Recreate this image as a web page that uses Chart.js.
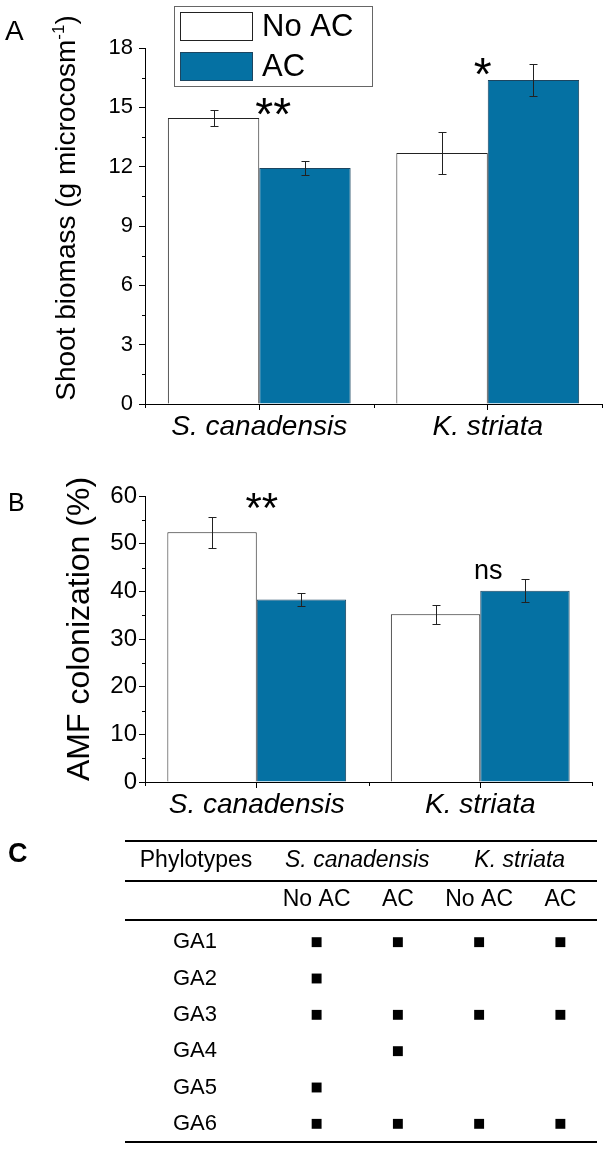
<!DOCTYPE html>
<html>
<head>
<meta charset="utf-8">
<script src="https://cdn.jsdelivr.net/npm/chart.js@4.4.1/dist/chart.umd.min.js"></script>
<style>
  body { margin: 0; background: #fff; }
  #wrap { position: relative; width: 608px; height: 1149px; overflow: hidden; }
  canvas { position: absolute; left: 0; }
</style>
</head>
<body>
<div id="wrap">
  <canvas id="chartA" width="608" height="448" style="top:0"></canvas>
  <canvas id="chartB" width="608" height="380" style="top:450px"></canvas>
  <canvas id="tableC" width="608" height="319" style="top:830px"></canvas>
</div>
<script>
var species = ['S. canadensis', 'K. striata'];

// A: shoot biomass (g microcosm-1)
var biomassNoAC = [14.46, 12.69];
var biomassAC = [11.93, 16.38];
var biomassNoACErr = [0.42, 1.05];
var biomassACErr = [0.36, 0.83];
var biomassTicks = [0, 3, 6, 9, 12, 15, 18];
var biomassSig = ['**', '*'];

// B: AMF colonization (%)
var amfNoAC = [52.4, 35.2];
var amfAC = [38.3, 40.1];
var amfNoACErr = [3.25, 2.0];
var amfACErr = [1.36, 2.4];
var amfTicks = [0, 10, 20, 30, 40, 50, 60];
var amfSig = ['**', 'ns'];

// C: phylotypes found per species / treatment (1 = present)
var phylotypes = ['GA1', 'GA2', 'GA3', 'GA4', 'GA5', 'GA6'];
var tableColumns = ['S. canadensis|No AC', 'S. canadensis|AC', 'K. striata|No AC', 'K. striata|AC'];
var presence = [
  [1, 1, 1, 1],
  [1, 0, 0, 0],
  [1, 1, 1, 1],
  [0, 1, 0, 0],
  [1, 0, 0, 0],
  [1, 1, 1, 1]
];

var FAMILY = '"Liberation Sans", Arial, Helvetica, sans-serif';
var BLUE = '#0571a3';
Chart.defaults.font.family = FAMILY;
Chart.defaults.color = '#000';

var panelPlugin = {
    id: 'panel',
    afterDatasetsDraw: function (chart) {
        var ctx = chart.ctx, ys = chart.scales.y;
        ctx.save();
        ctx.strokeStyle = '#222';
        ctx.lineWidth = 1;
        chart.data.datasets.forEach(function (ds, i) {
            chart.getDatasetMeta(i).data.forEach(function (bar, j) {
                var top = Math.round(ys.getPixelForValue(ds.data[j] + ds.err[j])) + 0.5;
                var bot = Math.round(ys.getPixelForValue(ds.data[j] - ds.err[j])) + 0.5;
                var x = Math.round(bar.x) + 0.5;
                ctx.beginPath();
                ctx.moveTo(x, top); ctx.lineTo(x, bot);
                ctx.moveTo(x - 4, top); ctx.lineTo(x + 4, top);
                ctx.moveTo(x - 4, bot); ctx.lineTo(x + 4, bot);
                ctx.stroke();
            });
        });
        ctx.restore();
    },
    afterDraw: function (chart, args, opts) {
        var ctx = chart.ctx, xs = chart.scales.x, ys = chart.scales.y, area = chart.chartArea;
        ctx.save();
        ctx.strokeStyle = '#000';
        ctx.lineWidth = 1;
        ctx.beginPath();
        // minor ticks between the labelled ones
        for (var i = 0; i < ys.ticks.length - 1; i++) {
            var py = Math.round(ys.getPixelForValue((ys.ticks[i].value + ys.ticks[i + 1].value) / 2)) + 0.5;
            ctx.moveTo(area.left - 3, py); ctx.lineTo(area.left, py);
        }
        for (var k = 0; k <= chart.data.labels.length; k++) {
            var px = Math.round(xs.getPixelForValue(k - 0.5)) + 0.5;
            ctx.moveTo(px, area.bottom); ctx.lineTo(px, area.bottom + 4);
        }
        ctx.stroke();

        ctx.fillStyle = '#000';
        ctx.textAlign = 'left';
        ctx.textBaseline = 'alphabetic';

        // panel letter
        ctx.font = opts.letterSize + 'px ' + FAMILY;
        ctx.fillText(opts.letter, opts.letterX, opts.letterY);

        // significance marks
        opts.sig.forEach(function (txt, j) {
            ctx.font = opts.sigSize[j] + 'px ' + FAMILY;
            ctx.textAlign = 'center';
            ctx.fillText(txt, xs.getPixelForValue(j) + opts.sigDx[j], ys.getPixelForValue(opts.sigAt[j]));
        });

        // rotated y title, parts allow a superscript
        ctx.save();
        ctx.translate(opts.titleX, opts.titleY);
        ctx.rotate(-Math.PI / 2);
        ctx.textAlign = 'left';
        var total = 0;
        opts.title.forEach(function (p) {
            ctx.font = p.size + 'px ' + FAMILY;
            total += ctx.measureText(p.text).width;
        });
        var cx = -total / 2;
        opts.title.forEach(function (p) {
            ctx.font = p.size + 'px ' + FAMILY;
            ctx.fillText(p.text, cx, -(p.rise || 0));
            cx += ctx.measureText(p.text).width;
        });
        ctx.restore();

        // legend box
        if (opts.legend) {
            ctx.strokeStyle = '#666';
            ctx.strokeRect(174.5, 6.5, 198, 80);
            ctx.font = '31px ' + FAMILY;
            ctx.textAlign = 'left';
            ctx.textBaseline = 'middle';
            chart.data.datasets.forEach(function (ds, d) {
                ctx.fillStyle = ds.backgroundColor;
                ctx.fillRect(180, 12 + 40 * d, 72, 28);
                ctx.strokeStyle = ds.borderColor;
                ctx.strokeRect(180.5, 12.5 + 40 * d, 72, 28);
                ctx.fillStyle = '#000';
                ctx.fillText(ds.label, 262, 27 + 40 * d);
            });
        }
        ctx.restore();
    }
};

function barChart(id, cfg) {
    return new Chart(document.getElementById(id), {
        type: 'bar',
        data: {
            labels: species,
            datasets: [
                { label: 'No AC', data: cfg.noAC, err: cfg.noACErr, backgroundColor: '#ffffff', borderColor: '#222222', borderWidth: 1 },
                { label: 'AC', data: cfg.ac, err: cfg.acErr, backgroundColor: BLUE, borderColor: '#1c4560', borderWidth: 1 }
            ]
        },
        options: {
            responsive: false,
            animation: false,
            layout: { padding: cfg.padding },
            datasets: { bar: { categoryPercentage: 0.8, barPercentage: 1.0 } },
            plugins: {
                legend: { display: false },
                tooltip: { enabled: false },
                panel: cfg.panel
            },
            scales: {
                x: {
                    grid: { drawOnChartArea: false, offset: false, tickLength: 6, color: '#000' },
                    border: { color: '#000', width: 1 },
                    ticks: { font: { size: 28, style: 'italic' }, padding: 0, color: '#000' },
                    afterFit: function (s) { s.height = 44; }
                },
                y: {
                    min: cfg.ticks[0],
                    max: cfg.ticks[cfg.ticks.length - 1],
                    afterBuildTicks: function (s) {
                        s.ticks = cfg.ticks.map(function (v) { return { value: v }; });
                    },
                    grid: { drawOnChartArea: false, tickLength: 6, color: '#000' },
                    border: { color: '#000', width: 1 },
                    ticks: { font: { size: cfg.tickSize }, padding: cfg.tickPad, color: '#000' },
                    afterFit: function (s) { s.width = 145; }
                }
            }
        },
        plugins: [panelPlugin]
    });
}

barChart('chartA', {
    noAC: biomassNoAC, ac: biomassAC, noACErr: biomassNoACErr, acErr: biomassACErr,
    ticks: biomassTicks, tickSize: 22, tickPad: 6,
    padding: { top: 48, right: 6, bottom: 0, left: 0 },
    panel: {
        letter: 'A', letterX: 5, letterY: 40, letterSize: 28,
        sig: biomassSig, sigAt: [13.83, 15.9], sigDx: [14, -5], sigSize: [46, 46],
        titleX: 75, titleY: 208,
        title: [
            { text: 'Shoot biomass (g microcosm', size: 28 },
            { text: '-1', size: 17, rise: 11 },
            { text: ')', size: 28 }
        ],
        legend: true
    }
});

barChart('chartB', {
    noAC: amfNoAC, ac: amfAC, noACErr: amfNoACErr, acErr: amfACErr,
    ticks: amfTicks, tickSize: 24, tickPad: 2,
    padding: { top: 46, right: 16, bottom: 4, left: 0 },
    panel: {
        letter: 'B', letterX: 8, letterY: 61, letterSize: 25,
        sig: amfSig, sigAt: [54.5, 42.6], sigDx: [5, 8], sigSize: [42, 27],
        titleX: 89, titleY: 179,
        title: [{ text: 'AMF colonization (%)', size: 32 }],
        legend: false
    }
});

// table C: squares placed by two category scales
var presencePoints = [];
presence.forEach(function (row, r) {
    row.forEach(function (v, c) {
        if (v) presencePoints.push({ x: tableColumns[c], y: phylotypes[r] });
    });
});

var tablePlugin = {
    id: 'tableFrame',
    afterDraw: function (chart) {
        var ctx = chart.ctx, xs = chart.scales.x, ys = chart.scales.y;
        ctx.save();
        ctx.strokeStyle = '#000';
        ctx.lineWidth = 2;
        ctx.beginPath();
        [11, 51, 90, chart.chartArea.bottom].forEach(function (y) {
            ctx.moveTo(125, y); ctx.lineTo(597, y);
        });
        ctx.stroke();

        ctx.fillStyle = '#000';
        ctx.textBaseline = 'alphabetic';
        ctx.textAlign = 'left';
        ctx.font = 'bold 27px ' + FAMILY;
        ctx.fillText('C', 8, 32);

        ctx.textAlign = 'center';
        ctx.textBaseline = 'middle';
        ctx.font = '23px ' + FAMILY;
        ctx.fillText('Phylotypes', 196, 31);

        // row names
        ctx.font = '22px ' + FAMILY;
        phylotypes.forEach(function (name, r) {
            ctx.fillText(name, 195, ys.getPixelForValue(r));
        });

        var groups = [];
        ctx.font = '23px ' + FAMILY;
        tableColumns.forEach(function (col, c) {
            var parts = col.split('|');
            var px = xs.getPixelForValue(c);
            ctx.fillText(parts[1], px, 70);
            if (!groups.length || groups[groups.length - 1].name !== parts[0]) {
                groups.push({ name: parts[0], from: px, to: px });
            } else {
                groups[groups.length - 1].to = px;
            }
        });
        ctx.font = 'italic 23px ' + FAMILY;
        groups.forEach(function (g) {
            ctx.fillText(g.name, (g.from + g.to) / 2, 31);
        });
        ctx.restore();
    }
};

new Chart(document.getElementById('tableC'), {
    type: 'scatter',
    data: {
        datasets: [{
            data: presencePoints,
            pointStyle: 'rect',
            radius: 7,
            backgroundColor: '#000',
            borderWidth: 0
        }]
    },
    options: {
        responsive: false,
        animation: false,
        layout: { padding: { top: 94, right: 2, bottom: 6, left: 276 } },
        plugins: { legend: { display: false }, tooltip: { enabled: false } },
        scales: {
            x: { type: 'category', labels: tableColumns, offset: true, display: false },
            y: { type: 'category', labels: phylotypes, offset: true, display: false }
        }
    },
    plugins: [tablePlugin]
});
</script>
</body>
</html>
